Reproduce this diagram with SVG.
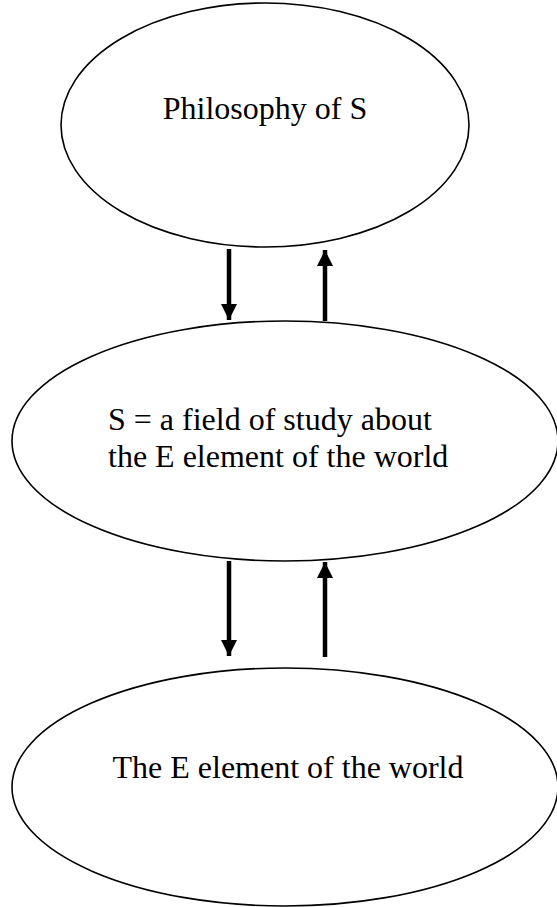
<svg xmlns="http://www.w3.org/2000/svg" width="557" height="907" viewBox="0 0 557 907">
<style>
.node{fill:#fff;stroke:#000;stroke-width:1.6}
.lbl{font-family:"Liberation Serif","Times New Roman",serif;font-size:32px;fill:#000}
.conn{stroke:#000;stroke-width:4.5;fill:none}
</style>
<defs>
<marker id="ah" viewBox="0 0 16 16" refX="16" refY="8" markerWidth="16" markerHeight="16" markerUnits="userSpaceOnUse" orient="auto">
<path d="M0,0 L16,8 L0,16 Z" fill="#000"/>
</marker>
</defs>
<rect width="557" height="907" fill="#fff"/>
<g id="node-philosophy">
<ellipse class="node" cx="265" cy="125" rx="204" ry="122"/>
<text class="lbl" x="265" y="119" text-anchor="middle">Philosophy of S</text>
</g>
<g id="node-field">
<ellipse class="node" cx="285" cy="441" rx="273" ry="120"/>
<text class="lbl" x="108" y="430">S = a field of study about</text>
<text class="lbl" x="108" y="467">the E element of the world</text>
</g>
<g id="node-element">
<ellipse class="node" cx="285" cy="787" rx="273" ry="119"/>
<text class="lbl" x="288" y="778" text-anchor="middle">The E element of the world</text>
</g>
<g id="connectors">
<line class="conn" x1="229" y1="249" x2="229" y2="320" marker-end="url(#ah)"/>
<line class="conn" x1="325" y1="321" x2="325" y2="250" marker-end="url(#ah)"/>
<line class="conn" x1="229" y1="561" x2="229" y2="656" marker-end="url(#ah)"/>
<line class="conn" x1="325" y1="657" x2="325" y2="562" marker-end="url(#ah)"/>
</g>
</svg>
